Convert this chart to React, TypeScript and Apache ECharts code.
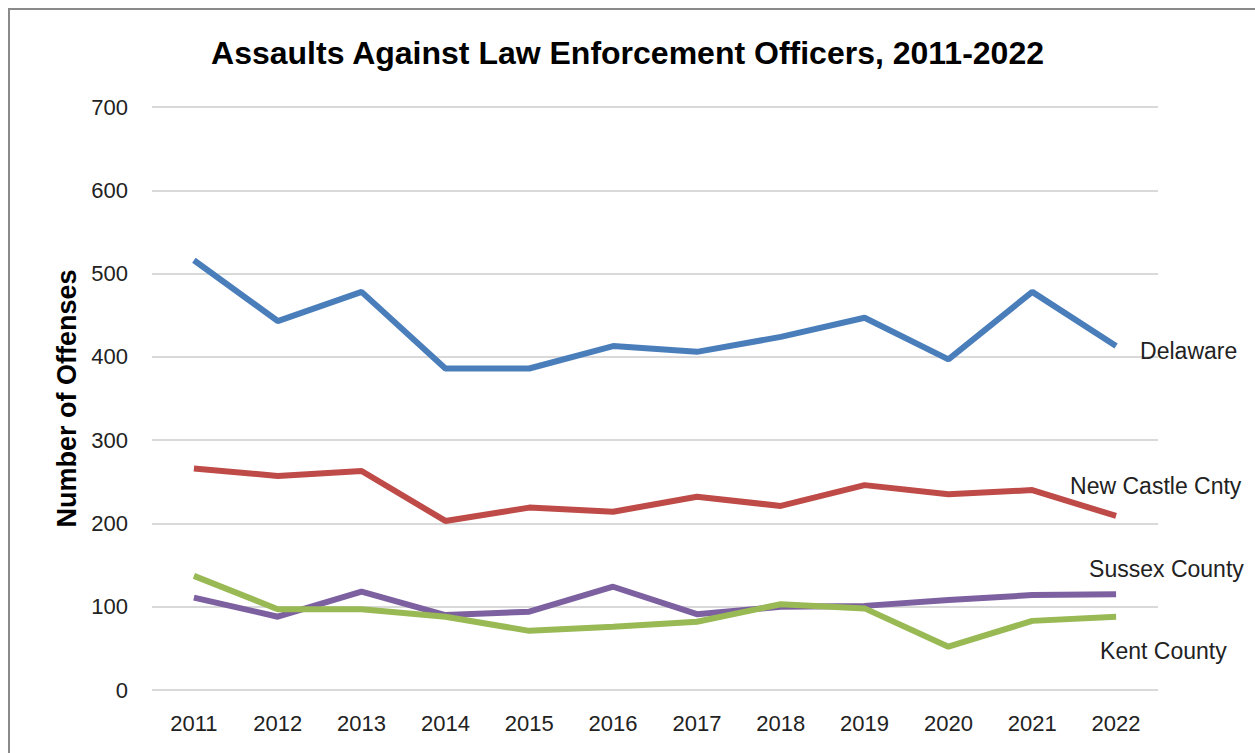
import React, { useEffect, useRef } from "react";
import * as echarts from "echarts";

const years = ["2011","2012","2013","2014","2015","2016","2017","2018","2019","2020","2021","2022"];
const delaware = [516, 443, 478, 386, 386, 413, 406, 424, 447, 397, 478, 413];
const newCastle = [266, 257, 263, 203, 219, 214, 232, 221, 246, 235, 240, 209];
const sussex = [111, 88, 118, 90, 94, 124, 91, 100, 101, 108, 114, 115];
const kent = [137, 97, 97, 88, 71, 76, 82, 103, 98, 52, 83, 88];

const FONT = "'Liberation Sans', Arial, sans-serif";

export default function App() {
  const ref = useRef<HTMLDivElement>(null);
  useEffect(() => {
    const chart = echarts.init(ref.current!, null, { renderer: "svg" });
    const mk = (name: string, data: number[], color: string, off: number[]) => ({
      name,
      type: "line",
      data,
      symbol: "none",
      lineStyle: { color, width: 6 },
      itemStyle: { color },
      endLabel: {
        show: true,
        formatter: name,
        fontFamily: FONT,
        fontSize: 23,
        color: "#222",
        distance: 0,
        offset: off,
      },
    });
    chart.setOption({
      animation: false,
      backgroundColor: "#fff",
      title: {
        text: "Assaults Against Law Enforcement Officers, 2011-2022",
        left: "center",
        top: 32,
        textStyle: { fontFamily: FONT, fontSize: 32, fontWeight: "bold", color: "#000" },
      },
      graphic: [
        {
          type: "rect",
          shape: { x: 9, y: 9, width: 1260, height: 760 },
          style: { fill: "none", stroke: "#8a8a8a", lineWidth: 2 },
          silent: true,
        },
      ],
      grid: { left: 152, right: 97, top: 107, bottom: 63 },
      xAxis: {
        type: "category",
        data: years,
        boundaryGap: true,
        axisLine: { show: false },
        axisTick: { show: false },
        axisLabel: { fontFamily: FONT, fontSize: 22, color: "#222", margin: 22 },
      },
      yAxis: {
        type: "value",
        min: 0,
        max: 700,
        interval: 100,
        name: "Number of Offenses",
        nameLocation: "middle",
        nameGap: 72,
        nameTextStyle: { fontFamily: FONT, fontSize: 27, fontWeight: "bold", color: "#000" },
        axisLine: { show: false },
        axisTick: { show: false },
        axisLabel: { fontFamily: FONT, fontSize: 22, color: "#222", margin: 24 },
        splitLine: { lineStyle: { color: "#d9d9d9", width: 2 } },
      },
      series: [
        mk("Delaware", delaware, "#4a7ebb", [24, 5]),
        mk("New Castle Cnty", newCastle, "#be4b48", [-46, -30]),
        mk("Sussex County", sussex, "#7d60a0", [-27, -25]),
        mk("Kent County", kent, "#98b954", [-16, 34]),
      ],
    });
    return () => chart.dispose();
  }, []);
  return (
    <div
      ref={ref}
      style={{ position: "fixed", left: 0, top: 0, width: 1255, height: 753 }}
    />
  );
}
